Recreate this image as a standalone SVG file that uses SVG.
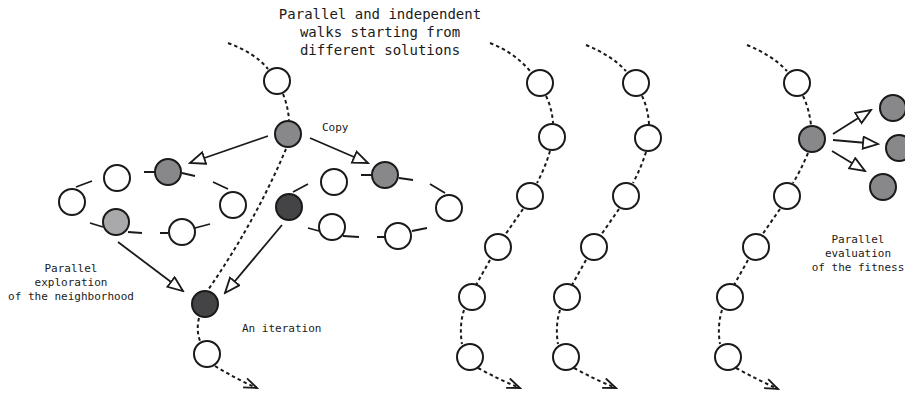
<svg xmlns="http://www.w3.org/2000/svg" width="905" height="397" viewBox="0 0 905 397">
<style>
.n{stroke:#1a1a1a;stroke-width:2;fill:#fff}
.g{fill:#88888a}
.l{fill:#a9a9ab}
.d{fill:#444446}
.dot{fill:none;stroke:#1a1a1a;stroke-width:2;stroke-dasharray:3.5,3}
.ring{fill:none;stroke:#1a1a1a;stroke-width:1.8}
.arr{fill:none;stroke:#1a1a1a;stroke-width:1.8;marker-end:url(#tri)}
.darr{marker-end:url(#chev)}
text{font-family:"DejaVu Sans Mono","Liberation Mono",monospace;fill:#1a1a1a}
.big{font-size:14px}
.sm{font-size:11px}
</style>
<defs>
<marker id="tri" markerUnits="userSpaceOnUse" markerWidth="18" markerHeight="16" refX="16" refY="7" orient="auto" viewBox="0 0 18 16">
<path d="M1,1 L16,7 L1,13 Z" fill="#fff" stroke="#1a1a1a" stroke-width="1.8"/>
</marker>
<marker id="chev" markerUnits="userSpaceOnUse" markerWidth="16" markerHeight="14" refX="14" refY="6" orient="auto" viewBox="0 0 16 14">
<path d="M1,1 L14,6 L1,11" fill="none" stroke="#1a1a1a" stroke-width="1.8"/>
</marker>
</defs>

<g id="connectors">
<!-- walk 1 -->
<path class="dot" d="M228,43 Q255,53 268,69"/>
<path class="dot" d="M283,94 Q288,106 289,120"/>
<path class="dot" d="M286,149 Q255,222 208,290"/>
<path class="dot" d="M199,318 Q196,330 200,341"/>
<path class="dot darr" d="M215,366 Q236,379 257,388"/>
<!-- walk 2 -->
<path class="dot" d="M490,43 Q515,53 530,71"/>
<path class="dot" d="M546,96 Q552,108 553,123"/>
<path class="dot" d="M550,151 Q545,168 537,183"/>
<path class="dot" d="M523,209 L505,235"/>
<path class="dot" d="M490,260 L476,285"/>
<path class="dot" d="M464,310 Q459,326 462,344"/>
<path class="dot darr" d="M478,368 Q500,380 520,388"/>
<!-- walk 3 -->
<path class="dot" d="M586,45 Q611,55 626,71"/>
<path class="dot" d="M642,96 Q648,108 649,124"/>
<path class="dot" d="M646,152 Q641,168 633,183"/>
<path class="dot" d="M619,209 L601,235"/>
<path class="dot" d="M586,260 L572,285"/>
<path class="dot" d="M560,310 Q555,326 558,344"/>
<path class="dot darr" d="M574,368 Q596,380 616,388"/>
<!-- walk 4 -->
<path class="dot" d="M747,45 Q772,55 787,71"/>
<path class="dot" d="M803,96 Q809,108 811,125"/>
<path class="dot" d="M808,153 Q801,170 793,183"/>
<path class="dot" d="M780,209 L762,235"/>
<path class="dot" d="M748,260 L734,285"/>
<path class="dot" d="M722,310 Q717,326 720,344"/>
<path class="dot darr" d="M736,368 Q758,380 778,389"/>
<!-- copy arrows -->
<path class="arr" d="M268,136 L190,163"/>
<path class="arr" d="M310,138 L368,163"/>
<path class="arr" d="M118,242 L183,291"/>
<path class="arr" d="M282,225 L225,293"/>
<path class="arr" d="M833,134 L871,110"/>
<path class="arr" d="M833,140 L878,144"/>
<path class="arr" d="M832,151 L865,171"/>
<!-- left neighborhood ring -->
<path class="ring" d="M76,187 L92,181 M144,172 L155,172 M182,173 L195,176 M213,182 L228,189 M90,223 L103,227 M128,232 L142,233 M160,233 L168,233 M195,228 L210,224"/>
<!-- right neighborhood ring -->
<path class="ring" d="M293,192 L308,184 M361,175 L372,175 M399,178 L413,180 M430,184 L445,193 M308,228 L319,231 M343,236 L359,237 M377,237 L386,237 M412,231 L427,228"/>
</g>

<g id="walk1">
<g id="w1n1"><circle class="n" cx="277" cy="81" r="13"/></g>
<g id="w1n2"><circle class="n g" cx="288" cy="134" r="13"/></g>
<g id="w1n3"><circle class="n d" cx="205" cy="304" r="13"/></g>
<g id="w1n4"><circle class="n" cx="207" cy="354" r="13"/></g>
</g>
<g id="neigh1">
<g id="a1"><circle class="n" cx="117" cy="178" r="13"/></g>
<g id="a2"><circle class="n g" cx="168" cy="172" r="13"/></g>
<g id="a3"><circle class="n" cx="72" cy="202" r="13"/></g>
<g id="a4"><circle class="n" cx="233" cy="205" r="13"/></g>
<g id="a5"><circle class="n l" cx="116" cy="222" r="13"/></g>
<g id="a6"><circle class="n" cx="182" cy="232" r="13"/></g>
</g>
<g id="neigh2">
<g id="b1"><circle class="n d" cx="289" cy="207" r="13"/></g>
<g id="b2"><circle class="n" cx="334" cy="182" r="13"/></g>
<g id="b3"><circle class="n g" cx="385" cy="175" r="13"/></g>
<g id="b4"><circle class="n" cx="449" cy="208" r="13"/></g>
<g id="b5"><circle class="n" cx="332" cy="227" r="13"/></g>
<g id="b6"><circle class="n" cx="398" cy="236" r="13"/></g>
</g>
<g id="walk2">
<g id="w2n1"><circle class="n" cx="540" cy="83" r="13"/></g>
<g id="w2n2"><circle class="n" cx="552" cy="137" r="13"/></g>
<g id="w2n3"><circle class="n" cx="530" cy="196" r="13"/></g>
<g id="w2n4"><circle class="n" cx="498" cy="247" r="13"/></g>
<g id="w2n5"><circle class="n" cx="472" cy="297" r="13"/></g>
<g id="w2n6"><circle class="n" cx="470" cy="357" r="13"/></g>
</g>
<g id="walk3">
<g id="w3n1"><circle class="n" cx="636" cy="83" r="13"/></g>
<g id="w3n2"><circle class="n" cx="648" cy="138" r="13"/></g>
<g id="w3n3"><circle class="n" cx="626" cy="196" r="13"/></g>
<g id="w3n4"><circle class="n" cx="594" cy="247" r="13"/></g>
<g id="w3n5"><circle class="n" cx="567" cy="297" r="13"/></g>
<g id="w3n6"><circle class="n" cx="566" cy="357" r="13"/></g>
</g>
<g id="walk4">
<g id="w4n1"><circle class="n" cx="797" cy="83" r="13"/></g>
<g id="w4n2"><circle class="n g" cx="812" cy="139" r="13"/></g>
<g id="w4n3"><circle class="n" cx="787" cy="196" r="13"/></g>
<g id="w4n4"><circle class="n" cx="756" cy="247" r="13"/></g>
<g id="w4n5"><circle class="n" cx="730" cy="297" r="13"/></g>
<g id="w4n6"><circle class="n" cx="728" cy="357" r="13"/></g>
</g>
<g id="evals">
<g id="e1"><circle class="n g" cx="893" cy="108" r="13"/></g>
<g id="e2"><circle class="n g" cx="899" cy="148" r="13"/></g>
<g id="e3"><circle class="n g" cx="883" cy="187" r="13"/></g>
</g>

<g id="labels">
<text class="big" text-anchor="middle" x="380" y="19">Parallel and independent</text>
<text class="big" text-anchor="middle" x="380" y="37">walks starting from</text>
<text class="big" text-anchor="middle" x="380" y="55">different solutions</text>
<text class="sm" x="322" y="131">Copy</text>
<text class="sm" text-anchor="middle" x="71" y="272">Parallel</text>
<text class="sm" text-anchor="middle" x="71" y="286">exploration</text>
<text class="sm" text-anchor="middle" x="71" y="300">of the neighborhood</text>
<text class="sm" x="242" y="332">An iteration</text>
<text class="sm" text-anchor="middle" x="858" y="243">Parallel</text>
<text class="sm" text-anchor="middle" x="858" y="257">evaluation</text>
<text class="sm" text-anchor="middle" x="858" y="271">of the fitness</text>
</g>
</svg>
